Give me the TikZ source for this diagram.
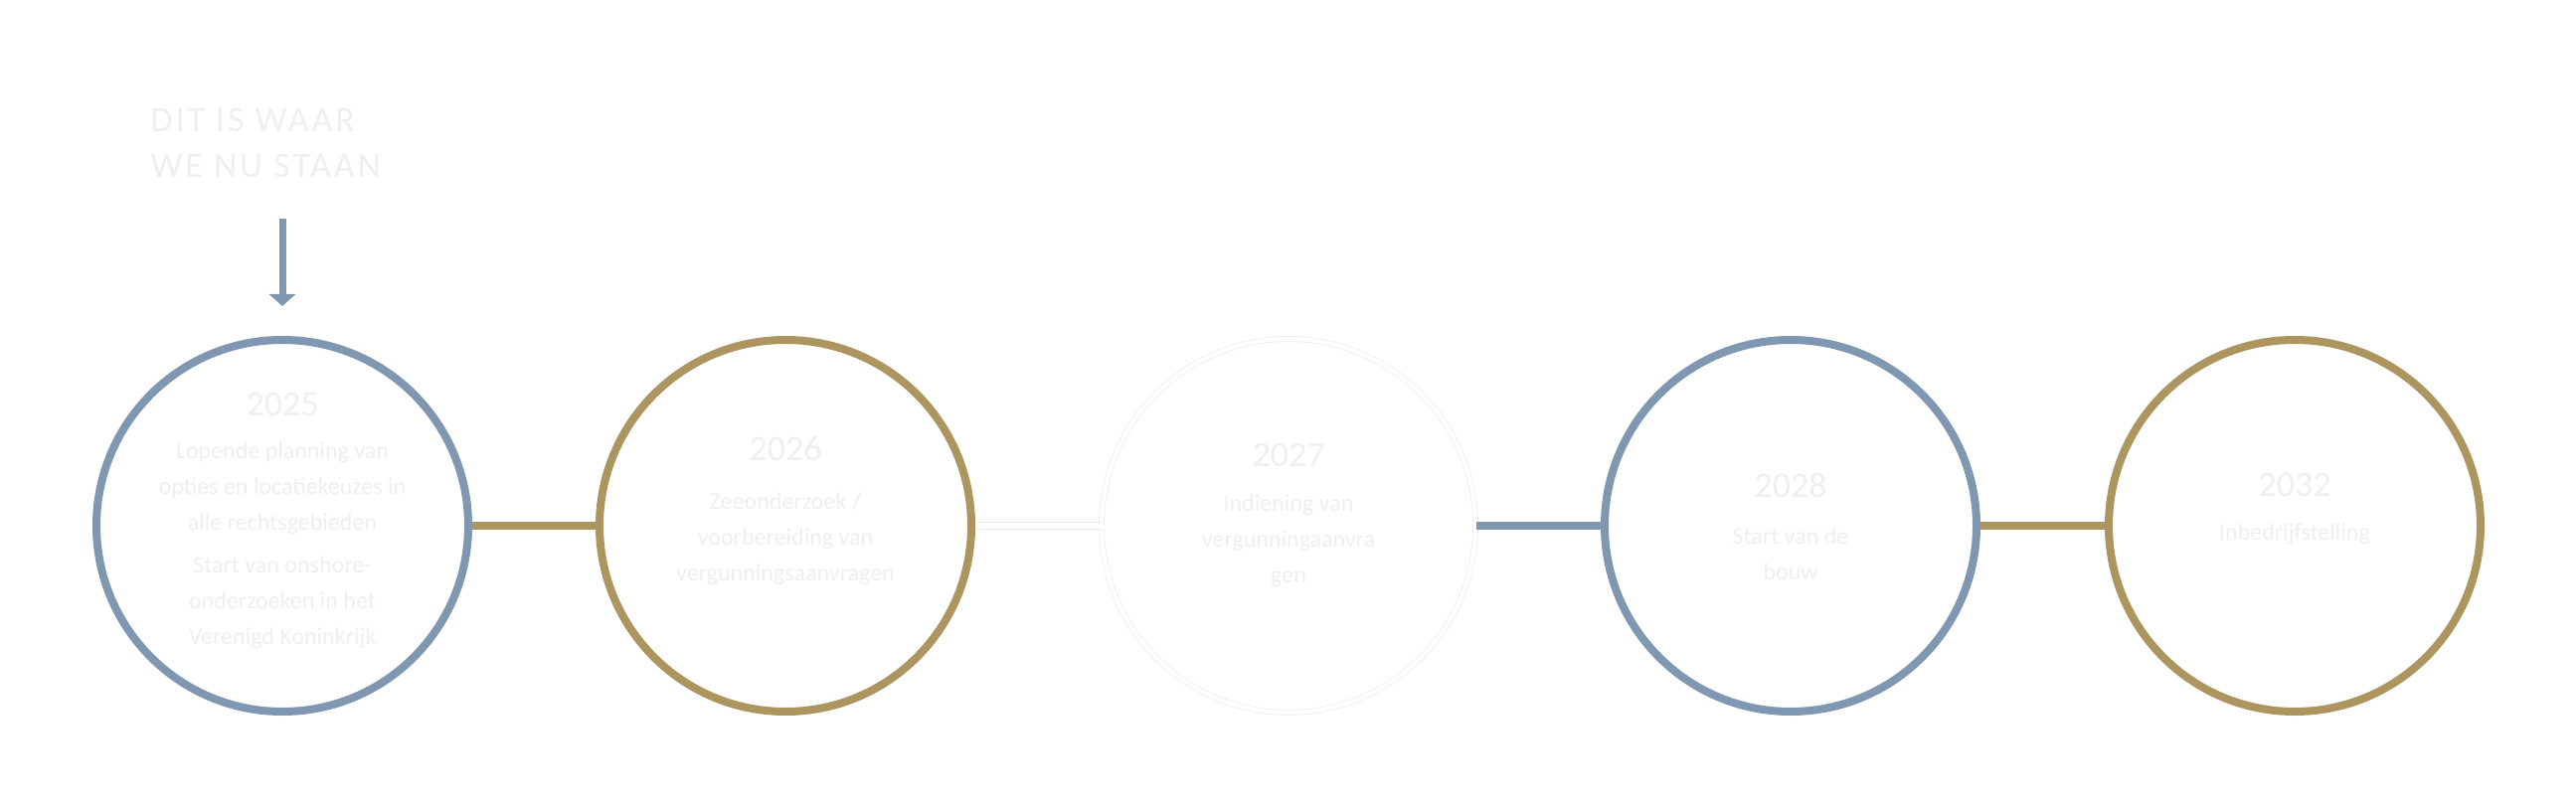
\documentclass[tikz,border=0pt]{standalone}
\usepackage{fontspec}
\setmainfont{Carlito}
\usetikzlibrary{arrows.meta}
\definecolor{bl}{HTML}{8097B1}
\definecolor{gd}{HTML}{AD955F}
\definecolor{tx}{HTML}{EEEFF1}
\begin{document}
\begin{tikzpicture}[x=1pt,y=-1pt,
  ring/.style={circle,minimum size=374pt,line width=8pt,inner sep=0pt},
  yr/.style={text=tx,font=\fontsize{36}{36}\selectfont},
  bd/.style={text=tx,font=\fontsize{24}{36}\selectfont,align=center},
  link/.style={line width=8pt}]
\useasboundingbox[fill=white] (0,0) rectangle (2591,810);
\node[ring,draw=bl] (c1) at (284,529) {};
\node[ring,draw=gd] (c2) at (790,529) {};
\node[ring,draw=black!6,double=white,double distance=4pt,line width=1pt,minimum size=376pt] (c3) at (1296,529) {};
\node[ring,draw=bl] (c4) at (1801,529) {};
\node[ring,draw=gd] (c5) at (2308,529) {};
\draw[link,gd] (c1) -- (c2);
\draw[black!8,double=white,double distance=6pt,line width=1pt] (c2) -- (c3);
\draw[link,bl] (c3) -- (c4);
\draw[link,gd] (c4) -- (c5);
\node[text=tx,font=\fontsize{36}{46}\selectfont,align=left,anchor=north west] (t) at (148,106) {\addfontfeatures{LetterSpace=8}DIT IS WAAR\\\addfontfeatures{LetterSpace=8}WE NU STAAN};
\coordinate (a1) at (284,220);
\coordinate (a2) at (284,308);
\draw[bl,line width=7pt,-{Triangle[length=12pt,width=26pt]}] (a1) -- (a2);
\node[yr] (y1) at (284,407) {2025};
\node[bd] (b1) at (284,491) {Lopende planning van\\opties en locatiekeuzes in\\alle rechtsgebieden};
\node[bd] (b1b) at (284,606) {Start van onshore-\\onderzoeken in het\\Verenigd Koninkrijk};
\node[yr] (y2) at (790,451) {2026};
\node[bd] (b2) at (790,542) {Zeeonderzoek /\\voorbereiding van\\vergunningsaanvragen};
\node[yr] (y3) at (1296,458) {2027};
\node[bd] (b3) at (1296,544) {Indiening van\\vergunningaanvra\\gen};
\node[yr] (y4) at (1801,488) {2028};
\node[bd] (b4) at (1801,557) {Start van de\\bouw};
\node[yr] (y5) at (2308,488) {2032};
\node[bd] (b5) at (2308,537) {Inbedrijfstelling};
\end{tikzpicture}
\end{document}
